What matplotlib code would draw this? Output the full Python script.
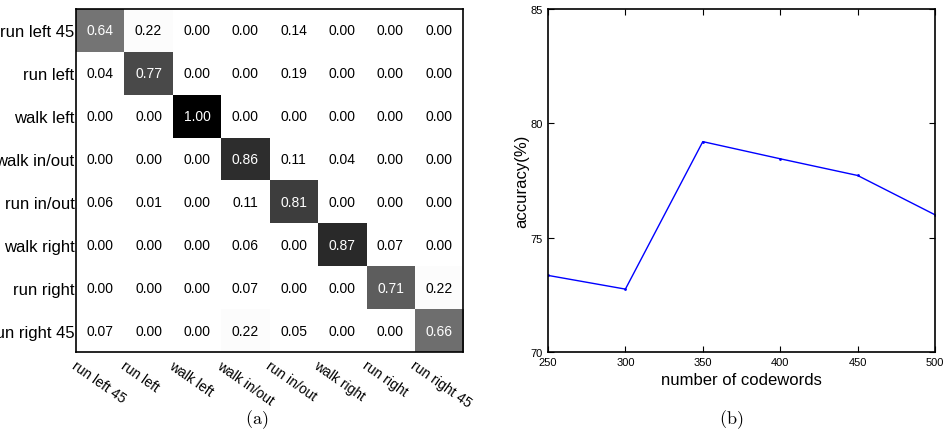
import numpy as np
import matplotlib.pyplot as plt
from matplotlib.colors import Normalize

plt.rcParams['font.family'] = ['Liberation Sans', 'DejaVu Sans']
plt.rcParams['mathtext.fontset'] = 'cm'

# confusion matrix data
classes = ["run left 45", "run left", "walk left", "walk in/out",
           "run in/out", "walk right", "run right", "run right 45"]
conf = np.array([
    [0.64, 0.22, 0.00, 0.00, 0.14, 0.00, 0.00, 0.00],
    [0.04, 0.77, 0.00, 0.00, 0.19, 0.00, 0.00, 0.00],
    [0.00, 0.00, 1.00, 0.00, 0.00, 0.00, 0.00, 0.00],
    [0.00, 0.00, 0.00, 0.86, 0.11, 0.04, 0.00, 0.00],
    [0.06, 0.01, 0.00, 0.11, 0.81, 0.00, 0.00, 0.00],
    [0.00, 0.00, 0.00, 0.06, 0.00, 0.87, 0.07, 0.00],
    [0.00, 0.00, 0.00, 0.07, 0.00, 0.00, 0.71, 0.22],
    [0.07, 0.00, 0.00, 0.22, 0.05, 0.00, 0.00, 0.66],
])

# accuracy vs codebook size
codewords = [250, 300, 350, 400, 450, 500]
accuracy = [73.35, 72.75, 79.2, 78.45, 77.72, 76.0]

fig = plt.figure(figsize=(9.44, 4.35), dpi=100)

# --- (a) confusion matrix ---
ax1 = fig.add_axes([0.0805, 0.1885, 0.41, 0.7885])
n = len(classes)
norm = Normalize(vmin=0.21, vmax=1.0)
ax1.imshow(conf, cmap="gray_r", norm=norm, aspect="auto", interpolation="nearest")
for i in range(n):
    for j in range(n):
        v = conf[i, j]
        ax1.text(j, i, f"{v:.2f}", ha="center", va="center", fontsize=10,
                 color="white" if v > 0.5 else "black")
ax1.set_yticks(np.arange(n))
ax1.set_yticklabels(classes, fontsize=12)
ax1.set_xticks(np.arange(n) - 0.47)
ax1.set_xticklabels(classes, fontsize=10, rotation=-35, ha="left",
                    va="top", rotation_mode="anchor")
ax1.tick_params(axis="y", length=0, pad=1)
ax1.tick_params(axis="x", length=0, pad=4)
ax1.set_xlim(-0.5, n - 0.5)
ax1.set_ylim(n - 0.5, -0.5)
for s in ax1.spines.values():
    s.set_linewidth(1.2)

# --- (b) accuracy curve ---
ax2 = fig.add_axes([0.5805, 0.1885, 0.41, 0.7885])
ax2.plot(codewords, accuracy, color="#0000ff", lw=1.0, marker=".", ms=2)
ax2.set_xlim(250, 500)
ax2.set_ylim(70, 85)
ax2.set_xticks(codewords)
ax2.set_yticks([70, 75, 80, 85])
ax2.tick_params(direction="in", length=4, labelsize=8, top=True, right=True)
ax2.set_xlabel("number of codewords", fontsize=12, labelpad=4)
ax2.set_ylabel("accuracy(%)", fontsize=12, labelpad=1)
for s in ax2.spines.values():
    s.set_linewidth(1.2)

fig.text(0.272, 0.036, r"$\mathrm{(a)}$", ha="center", va="center", fontsize=13)
fig.text(0.775, 0.036, r"$\mathrm{(b)}$", ha="center", va="center", fontsize=13)

fig.savefig("out.png", dpi=100)
